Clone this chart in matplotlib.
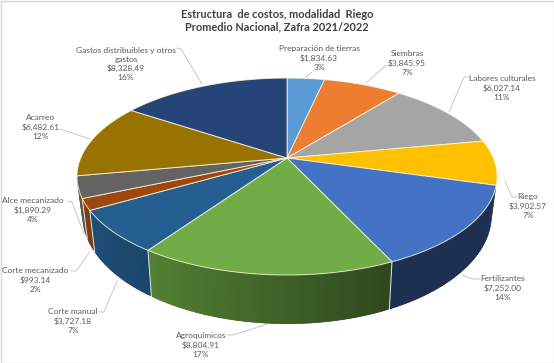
import numpy as np
import matplotlib
matplotlib.use("Agg")
import matplotlib.pyplot as plt
from matplotlib.patches import Polygon, Rectangle
from matplotlib.colors import to_rgb

categories = ["Preparación de tierras", "Siembras", "Labores culturales", "Riego",
              "Fertilizantes", "Agroquímicos", "Corte manual", "Corte mecanizado",
              "Alce mecanizado", "Acarreo", "Gastos distribuibles y otros\ngastos"]
values = [1834.63, 3845.95, 6027.14, 3902.57, 7252.00, 8804.91,
          3727.18, 993.14, 1890.29, 6482.61, 8328.49]
percents = ["3%", "7%", "11%", "7%", "14%", "17%", "7%", "2%", "4%", "12%", "16%"]
colors = ["#5b9bd5", "#ed7d31", "#a5a5a5", "#ffc000", "#4472c4", "#70ad47",
          "#255e91", "#9e480e", "#636363", "#997300", "#264478"]

title_lines = "Estructura  de costos, modalidad  Riego\nPromedio Nacional, Zafra 2021/2022"

# layout (pixel space)
label_pos = [(319, 58), (407, 63), (502, 88), (528, 206), (503, 288), (201, 345),
             (73, 321), (35, 280), (33, 210), (41, 127), (126, 64)]
leaders = [[(312, 72), (306, 77)],
           [(389, 65), (385, 66), (366, 83)],
           [(469, 77), (464, 77), (449, 112)],
           [(517, 197), (512, 197), (505, 181)],
           [(480, 279), (472, 279), (462, 275)],
           [(227, 335), (233, 335), (268, 324)],
           [(99, 312), (104, 312), (117, 281)],
           [(71, 271), (76, 271), (89, 253)],
           [(68, 201), (72, 202), (84, 234)],
           [(60, 129), (90, 139)],
           [(177, 48), (181, 49), (202, 84)]]
CX, CY, A, B, K = 287.0, 158.0, 206.3, 95.0, 0.188
FONT = ["Lato", "DejaVu Sans"]


def rim(theta):
    X, Y = np.sin(theta), np.cos(theta)
    d = 1 + K * Y
    return CX + A * X / d, CY - B * Y / d


def lower(x, y):
    return CX + 0.975 * (x - CX), 1.11 * y + 18.7


fig = plt.figure(figsize=(5.54, 3.63), dpi=100)
ax = fig.add_axes([0, 0, 1, 1])
ax.set_xlim(0, 554)
ax.set_ylim(363, 0)
ax.axis("off")
ax.add_patch(Rectangle((0.5, 0.5), 553, 362, fill=False, ec="#d9d9d9", lw=1.0))

cum = np.concatenate([[0], np.cumsum(values)]) / np.sum(values) * 2 * np.pi

# side wall: overlapping strips painted in order so no seams show
z = 1.0
for i, c in enumerate(colors):
    lo, hi = max(cum[i], np.radians(105)), min(cum[i + 1], np.radians(262))
    if hi <= lo:
        continue
    ts = np.linspace(lo, hi, max(2, int(np.degrees(hi - lo)) + 1))
    base = np.array(to_rgb(c))
    for j, a in enumerate(ts[:-1]):
        b = ts[min(j + 2, len(ts) - 1)]
        xa, ya = rim(a)
        xb, yb = rim(b)
        xc, yc = lower(xb, yb)
        xd, yd = lower(xa, ya)
        f = np.clip(0.82 - 0.40 * (xa - 90) / 300, 0.42, 0.82)
        ax.add_patch(Polygon([(xa, ya), (xb, yb), (xc, yc), (xd, yd)], closed=True,
                             fc=tuple(base * f), ec="none", zorder=z))
        z += 1e-4

# side separators
for t in cum[:-1]:
    if np.radians(110) < t < np.radians(255):
        x, y = rim(t)
        x2, y2 = lower(x, y)
        ax.plot([x, x2], [y, y2], color="#dfe8e8", lw=0.7, zorder=2)

# top face
for i, c in enumerate(colors):
    ts = np.linspace(cum[i], cum[i + 1], 80)
    xs, ys = rim(ts)
    pts = np.column_stack([np.r_[CX, xs], np.r_[CY, ys]])
    ax.add_patch(Polygon(pts, closed=True, fc=c, ec=(1, 0.97, 0.88, 0.8), lw=0.7,
                         joinstyle="round", zorder=3))

# labels
for name, v, p, pos, seg in zip(categories, values, percents, label_pos, leaders):
    ax.text(pos[0], pos[1], f"{name}\n${v:,.2f}\n{p}", ha="center", va="center",
            fontsize=6.0, color="#595959", family=FONT, linespacing=1.3, zorder=5)
    sx, sy = zip(*seg)
    ax.plot(sx, sy, color="#c8c8c8", lw=0.7, zorder=4)

ax.text(277, 20.5, title_lines, ha="center", va="center", fontsize=7.9, fontweight="bold",
        color="#404040", family=FONT, linespacing=1.2, zorder=5)

fig.savefig("out.png", dpi=100)
